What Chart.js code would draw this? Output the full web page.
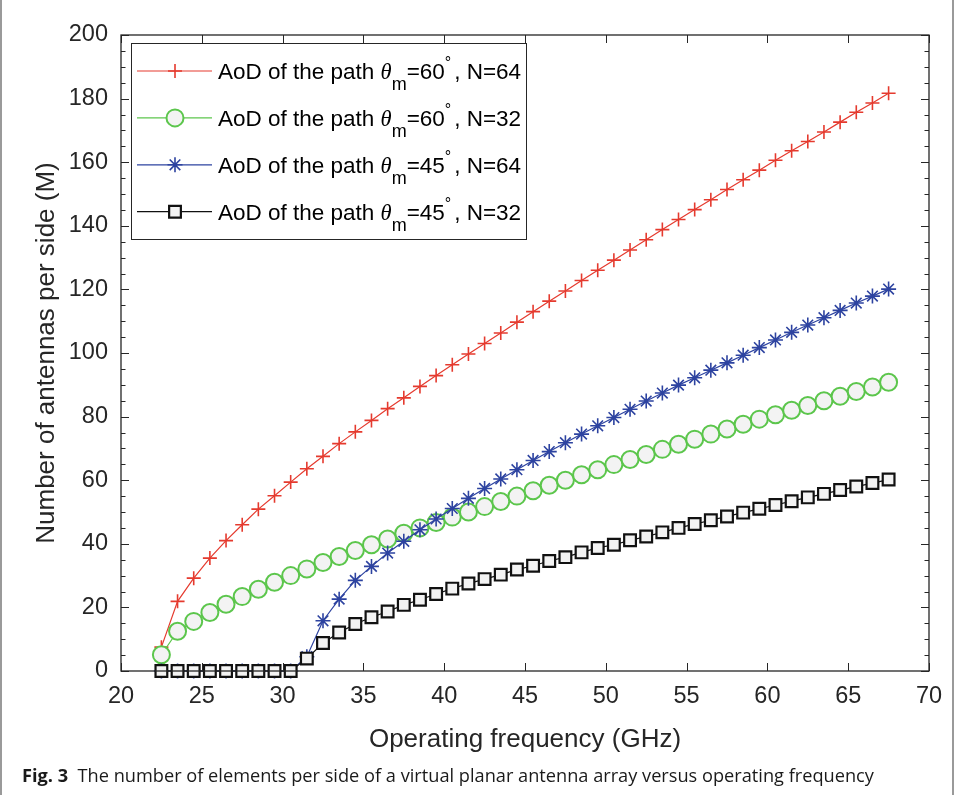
<!DOCTYPE html>
<html>
<head>
<meta charset="utf-8">
<script src="https://cdn.jsdelivr.net/npm/chart.js@4.4.0/dist/chart.umd.min.js"></script>
<style>
  html, body { margin: 0; padding: 0; background: #fff; }
  #wrap { position: relative; width: 954px; height: 795px; overflow: hidden; }
  #frame { position: absolute; left: 0; top: 0; width: 954px; height: 795px; box-sizing: border-box;
           border-left: 2px solid #9a9a9a; border-right: 2px solid #9a9a9a; pointer-events: none; }
  #caption { position: absolute; left: 22px; top: 763px; font-family: "Open Sans", sans-serif;
             font-size: 18.2px; color: #1a1a1a; white-space: nowrap; }
  #caption b { font-weight: 700; }
</style>
</head>
<body>
<div id="wrap">
  <canvas id="myChart"></canvas>
  <div id="caption"><b>Fig. 3</b>&nbsp; The number of elements per side of a virtual planar antenna array versus operating frequency</div>
  <div id="frame"></div>
</div>
<script>
// operating frequency (GHz)
const freq = [22.5, 23.5, 24.5, 25.5, 26.5, 27.5, 28.5, 29.5, 30.5, 31.5, 32.5, 33.5, 34.5, 35.5, 36.5, 37.5,
              38.5, 39.5, 40.5, 41.5, 42.5, 43.5, 44.5, 45.5, 46.5, 47.5, 48.5, 49.5, 50.5, 51.5, 52.5, 53.5,
              54.5, 55.5, 56.5, 57.5, 58.5, 59.5, 60.5, 61.5, 62.5, 63.5, 64.5, 65.5, 66.5, 67.5];

// number of antennas per side
const m60n64 = [7.5, 21.9, 29.2, 35.5, 41.0, 46.0, 50.9, 55.1, 59.4, 63.6, 67.5, 71.5, 75.2, 78.8, 82.5, 85.9,
                89.5, 92.9, 96.3, 99.7, 103.0, 106.3, 109.7, 113.0, 116.3, 119.5, 122.8, 126.0, 129.2, 132.4, 135.6, 138.8,
                142.0, 145.1, 148.2, 151.4, 154.5, 157.5, 160.6, 163.6, 166.5, 169.5, 172.6, 175.7, 178.6, 181.7];
const m60n32 = [5.1, 12.5, 15.6, 18.4, 21.0, 23.4, 25.7, 27.9, 30.0, 32.1, 34.1, 36.0, 37.9, 39.7, 41.5, 43.3,
                45.0, 46.7, 48.4, 50.0, 51.7, 53.3, 55.0, 56.7, 58.4, 60.0, 61.7, 63.3, 64.9, 66.5, 68.1, 69.7,
                71.3, 72.9, 74.5, 76.1, 77.6, 79.2, 80.6, 82.0, 83.5, 85.0, 86.4, 87.9, 89.3, 90.8];
const m45n64 = [0, 0, 0, 0, 0, 0, 0, 0, 0, 4.5, 15.8, 22.6, 28.5, 32.9, 37.1, 40.8,
                44.4, 47.8, 51.1, 54.3, 57.4, 60.4, 63.3, 66.2, 69.0, 71.8, 74.5, 77.1, 79.7, 82.3, 84.9, 87.4,
                89.9, 92.2, 94.6, 96.9, 99.3, 101.7, 104.1, 106.5, 108.8, 111.1, 113.4, 115.7, 117.9, 120.1];
const m45n32 = [0, 0, 0, 0, 0, 0, 0, 0, 0, 3.9, 8.8, 12.1, 14.8, 16.9, 18.7, 20.8,
                22.4, 24.2, 25.9, 27.5, 28.9, 30.3, 31.9, 33.1, 34.6, 35.8, 37.3, 38.7, 39.7, 41.1, 42.3, 43.6,
                45.0, 46.2, 47.4, 48.6, 49.8, 51.0, 52.2, 53.4, 54.6, 55.7, 56.9, 58.0, 59.1, 60.2];

const xTicks = [20, 25, 30, 35, 40, 45, 50, 55, 60, 65, 70];
const yTicks = [0, 20, 40, 60, 80, 100, 120, 140, 160, 180, 200];

// legend pieces: "AoD of the path θm=60°, N=64"
const legendAngle = ['60', '60', '45', '45'];
const legendN = ['64', '32', '64', '32'];

const axisColor = '#262626';
const pts = arr => arr.map((v, i) => ({x: freq[i], y: v}));

Chart.defaults.font.family = '"Liberation Sans", Arial, sans-serif';
Chart.defaults.color = axisColor;

const datasets = [
    { data: pts(m60n64), borderColor: '#e53a2e', pointStyle: 'cross', pointRadius: 7,
      pointBorderWidth: 1.6, order: 3 },
    { data: pts(m60n32), borderColor: '#5cc64c', pointStyle: 'circle', pointRadius: 8.5,
      pointBackgroundColor: '#f3f3f3', pointBorderWidth: 2, order: 2 },
    { data: pts(m45n64), borderColor: '#2d43a0', pointStyle: 'star', pointRadius: 7.5,
      pointBorderWidth: 1.6, order: 1 },
    { data: pts(m45n32), borderColor: '#111111', pointStyle: 'rect', pointRadius: 8.3,
      pointBackgroundColor: '#f3f3f3', pointBorderWidth: 2.2, order: 0 }
];
datasets.forEach(d => {
    d.borderWidth = 1.2;
    d.pointBorderColor = d.borderColor;
    d.clip = false;
    d.tension = 0;
});

// box, inward tick marks and legend in MATLAB style
const boxPlugin = {
    id: 'box',
    afterDatasetsDraw(chart) {
        const {ctx, chartArea: a, scales: {x, y}} = chart;
        ctx.save();
        ctx.strokeStyle = axisColor;
        ctx.lineWidth = 1;
        ctx.beginPath();
        xTicks.forEach(v => {
            const px = Math.round(x.getPixelForValue(v)) + 0.5;
            ctx.moveTo(px, a.bottom); ctx.lineTo(px, a.bottom - 8);
            ctx.moveTo(px, a.top); ctx.lineTo(px, a.top + 8);
        });
        for (let v = 0; v <= 200; v += 5) {
            const len = v % 20 === 0 ? 8 : 4.5;
            const py = Math.round(y.getPixelForValue(v)) + 0.5;
            ctx.moveTo(a.left, py); ctx.lineTo(a.left + len, py);
            ctx.moveTo(a.right, py); ctx.lineTo(a.right - len, py);
        }
        ctx.stroke();
        ctx.lineWidth = 1.3;
        ctx.strokeRect(a.left, a.top, a.width, a.height);

        // legend
        const lx = a.left + 10, ly = a.top + 8, lw = 395, lh = 196;
        ctx.fillStyle = '#fff';
        ctx.fillRect(lx, ly, lw, lh);
        ctx.lineWidth = 1;
        ctx.strokeRect(lx + 0.5, ly + 0.5, lw, lh);
        datasets.forEach((d, i) => {
            const cy = ly + 28 + i * 46.9;
            ctx.strokeStyle = d.borderColor;
            ctx.lineWidth = 1.2;
            ctx.beginPath();
            ctx.moveTo(lx + 6, cy); ctx.lineTo(lx + 81, cy);
            ctx.stroke();
            ctx.fillStyle = d.pointBackgroundColor || 'rgba(0,0,0,0)';
            ctx.strokeStyle = d.borderColor;
            ctx.lineWidth = d.pointBorderWidth;
            Chart.helpers.drawPoint(ctx, {
                pointStyle: d.pointStyle, radius: d.pointRadius, rotation: 0,
                borderWidth: d.pointBorderWidth
            }, lx + 44, cy);
            // text
            const base = cy + 8;
            let tx = lx + 87;
            ctx.fillStyle = '#000';
            ctx.textBaseline = 'alphabetic';
            ctx.textAlign = 'left';
            const put = (s, font, dy) => {
                ctx.font = font;
                ctx.fillText(s, tx, base + dy);
                tx += ctx.measureText(s).width;
            };
            put('AoD of the path ', '22.5px "Liberation Sans"', 0);
            put('\u03b8', 'italic 22.5px "Liberation Serif"', 0);
            put('m', '18px "Liberation Sans"', 11);
            put('=' + legendAngle[i], '22.5px "Liberation Sans"', 0);
            put('\u00b0', '16px "Liberation Sans"', -11);
            tx += 3;
            put(', N=' + legendN[i], '22.5px "Liberation Sans"', 0);
        });
        ctx.restore();
    }
};

const ctx = document.getElementById('myChart');
new Chart(ctx, {
    type: 'line',
    data: { datasets: datasets },
    options: {
        responsive: true,
        maintainAspectRatio: false,
        animation: false,
        layout: { padding: { left: 0, top: 35, right: 25, bottom: 40 } },
        scales: {
            x: {
                type: 'linear', min: 20, max: 70,
                afterFit: s => { s.height = 84; },
                afterBuildTicks: s => { s.ticks = xTicks.map(v => ({value: v})); },
                grid: { display: false, drawTicks: false },
                border: { display: false },
                ticks: { font: { size: 23.5 }, padding: 11, maxRotation: 0 },
                title: { display: true, text: 'Operating frequency (GHz)', font: { size: 26 },
                         padding: { top: 2, bottom: 0 } }
            },
            y: {
                min: 0, max: 200,
                afterFit: s => { s.width = 121; },
                afterBuildTicks: s => { s.ticks = yTicks.map(v => ({value: v})); },
                grid: { display: false, drawTicks: false },
                border: { display: false },
                ticks: { font: { size: 23.5 }, padding: 13 },
                title: { display: true, text: 'Number of antennas per side (M)', font: { size: 26 },
                         padding: { top: 31, bottom: 0 } }
            }
        },
        plugins: {
            legend: { display: false },
            tooltip: { enabled: false }
        }
    },
    plugins: [boxPlugin]
});
</script>
</body>
</html>
